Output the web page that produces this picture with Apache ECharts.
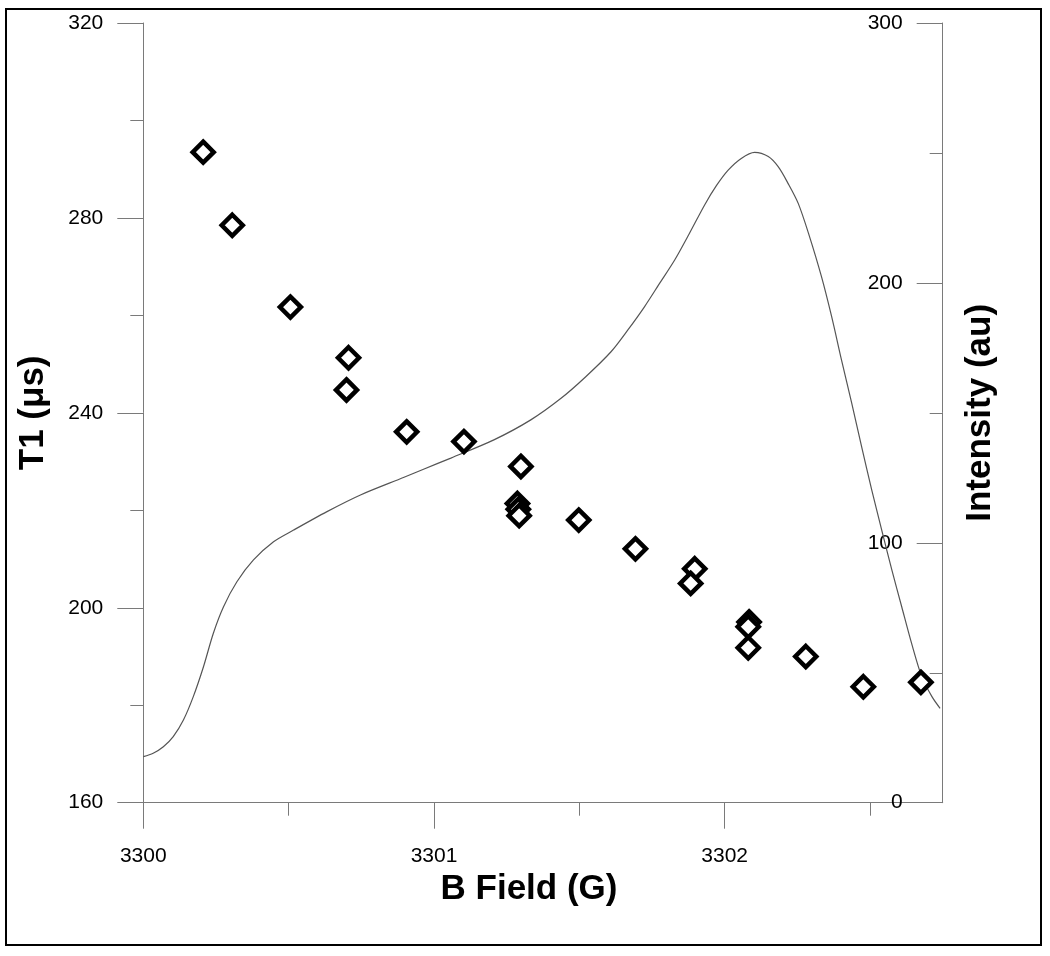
<!DOCTYPE html>
<html>
<head>
<meta charset="utf-8">
<script src="https://cdn.jsdelivr.net/npm/echarts@6/dist/echarts.min.js"></script>
<style>
html,body{margin:0;padding:0;background:#fff;}
#chart{width:1050px;height:956px;}
</style>
</head>
<body>
<div id="chart"></div>
<script>
// T1 relaxation data (scatter, left axis)
const t1Field = [3300.206, 3300.306, 3300.506, 3300.706, 3300.699, 3300.906, 3301.103, 3301.299,
  3301.287, 3301.290, 3301.293, 3301.498, 3301.693, 3301.897, 3301.883, 3302.084, 3302.081,
  3302.081, 3302.279, 3302.477, 3302.675];
const t1Values = [293.5, 278.5, 261.7, 251.3, 244.7, 236.1, 234.1, 229.0,
  221.4, 220.2, 218.9, 218.0, 212.1, 208.0, 205.0, 197.1, 196.1,
  191.8, 190.0, 183.8, 184.7];

// EPR intensity spectrum (line, right axis)
const specField = [3300.000, 3300.034, 3300.069, 3300.103, 3300.138, 3300.172, 3300.207, 3300.241,
  3300.276, 3300.322, 3300.379, 3300.448, 3300.517, 3300.632, 3300.747, 3300.897, 3300.964,
  3301.058, 3301.206, 3301.333, 3301.437, 3301.523, 3301.609, 3301.667, 3301.724, 3301.776,
  3301.828, 3301.879, 3301.931, 3301.972, 3302.012, 3302.057, 3302.103, 3302.150, 3302.184,
  3302.218, 3302.253, 3302.290, 3302.333, 3302.368, 3302.402, 3302.437, 3302.471,
  3302.506, 3302.540, 3302.575, 3302.609, 3302.643, 3302.678, 3302.713, 3302.741];
const specIntensity = [17.7, 19.0, 21.5, 25.4, 31.8, 40.8, 52.3, 65.2,
  75.4, 85.0, 93.4, 100.4, 104.9, 112.0, 118.4, 125.2, 128.3,
  132.6, 139.6, 147.3, 155.6, 164.0, 173.5, 181.9, 190.8, 199.8,
  208.8, 219.1, 230.0, 237.5, 243.4, 247.9, 250.2, 248.6, 244.7,
  238.3, 230.6, 218.5, 202.4, 187.0, 170.3, 153.7, 137.0,
  120.3, 105.0, 89.6, 75.4, 61.3, 48.5, 40.8, 36.3];

// Tick values
const xMajorTicks = [3300, 3301, 3302];
const xMinorTicks = [3300.5, 3301.5, 3302.5];

const FONT = '"Liberation Sans", Arial, Helvetica, sans-serif';
const AXIS_COLOR = '#7a7a7a';

const chart = echarts.init(document.getElementById('chart'), null, {renderer: 'canvas'});

const option = {
  animation: false,
  backgroundColor: '#fff',
  textStyle: {fontFamily: FONT},
  grid: {left: 143.3, right: 107.3, top: 23, bottom: 153.3, containLabel: false},
  graphic: [{
    type: 'rect',
    shape: {x: 6, y: 9, width: 1035, height: 936},
    style: {fill: 'none', stroke: '#000', lineWidth: 2},
    silent: true
  }],
  xAxis: [{
    type: 'value', min: 3300, max: 3302.75, position: 'bottom',
    name: 'B Field (G)', nameLocation: 'middle', nameGap: 61,
    nameTextStyle: {fontSize: 35, fontWeight: 'bold', color: '#000', fontFamily: FONT, padding: [0, 28, 0, 0]},
    axisLine: {show: true, lineStyle: {color: AXIS_COLOR, width: 1}},
    axisTick: {show: true, length: 26, customValues: xMajorTicks, lineStyle: {color: AXIS_COLOR, width: 1}},
    axisLabel: {show: true, customValues: xMajorTicks, margin: 43, fontSize: 21, color: '#000', fontFamily: FONT,
      formatter: v => String(v)},
    splitLine: {show: false}
  }, {
    type: 'value', min: 3300, max: 3302.75, position: 'bottom', offset: 0,
    axisLine: {show: false},
    axisTick: {show: true, length: 13, customValues: xMinorTicks, lineStyle: {color: AXIS_COLOR, width: 1}},
    axisLabel: {show: false},
    splitLine: {show: false}
  }],
  yAxis: [{
    type: 'value', min: 160, max: 320, interval: 40, position: 'left',
    name: 'T1 (μs)', nameLocation: 'middle', nameGap: 92,
    nameTextStyle: {fontSize: 35, fontWeight: 'bold', color: '#000', fontFamily: FONT},
    axisLine: {show: true, lineStyle: {color: AXIS_COLOR, width: 1}},
    axisTick: {show: true, length: 26, lineStyle: {color: AXIS_COLOR, width: 1}},
    minorTick: {show: true, splitNumber: 2, length: 13, lineStyle: {color: AXIS_COLOR, width: 1}},
    axisLabel: {margin: 40, fontSize: 21, color: '#000', fontFamily: FONT},
    splitLine: {show: false}, minorSplitLine: {show: false}
  }, {
    type: 'value', min: 0, max: 300, interval: 100, position: 'right',
    name: 'Intensity (au)', nameLocation: 'middle', nameGap: 20,
    nameTextStyle: {fontSize: 35, fontWeight: 'bold', color: '#000', fontFamily: FONT},
    axisLine: {show: true, lineStyle: {color: AXIS_COLOR, width: 1}},
    axisTick: {show: true, inside: true, length: 26, lineStyle: {color: AXIS_COLOR, width: 1}},
    minorTick: {show: true, splitNumber: 2, length: 13, lineStyle: {color: AXIS_COLOR, width: 1}},
    axisLabel: {inside: true, margin: 40, fontSize: 21, color: '#000', fontFamily: FONT},
    splitLine: {show: false}, minorSplitLine: {show: false}
  }],
  series: [{
    type: 'line', name: 'Intensity', xAxisIndex: 0, yAxisIndex: 1,
    data: specField.map((x, i) => [x, specIntensity[i]]),
    smooth: 0.3, showSymbol: false, symbol: 'none',
    lineStyle: {color: '#555', width: 1.2},
    z: 2, silent: true
  }, {
    type: 'scatter', name: 'T1', xAxisIndex: 0, yAxisIndex: 0,
    data: t1Field.map((x, i) => [x, t1Values[i]]),
    symbol: 'diamond', symbolSize: [21, 21],
    itemStyle: {color: '#fff', borderColor: '#000', borderWidth: 4.5, opacity: 1},
    z: 3, silent: true
  }]
};
chart.setOption(option);
</script>
</body>
</html>
